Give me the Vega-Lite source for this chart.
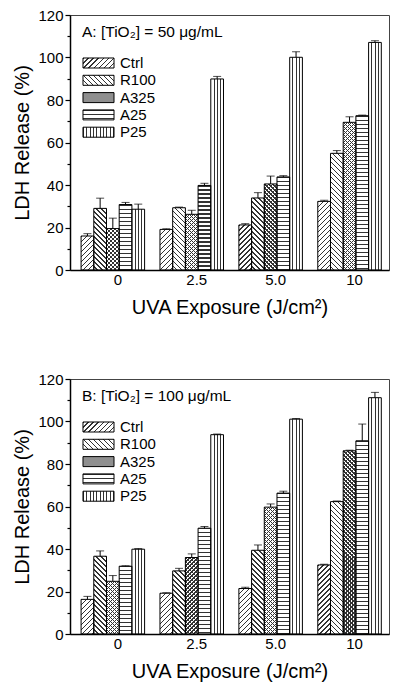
{
  "$schema": "https://vega.github.io/schema/vega-lite/v6.json",
  "padding": {"left": 12, "top": 7, "right": 5, "bottom": 5},
  "config": {
    "font": "Liberation Sans",
    "view": {"stroke": "#444", "strokeWidth": 1},
    "axis": {"labelFontSize": 15, "labelColor": "black", "titleFontSize": 20, "titleFontWeight": "normal", "titleColor": "black", "domainColor": "black", "domainWidth": 1.5, "tickColor": "black", "tickWidth": 1.2, "grid": false, "labelFont": "Liberation Sans", "titleFont": "Liberation Sans"},
    "legend": {
      "orient": "none", "legendX": 12, "legendY": 10,
      "titleFontSize": 15.5, "titleFontWeight": "normal", "titleFont": "Liberation Sans", "titleColor": "black", "titlePadding": 15,
      "labelFontSize": 15, "labelFont": "Liberation Sans", "labelColor": "black", "labelOffset": 14, "symbolOffset": 9,
      "symbolType": "M-2.82,-0.91H2.82V0.91H-2.82Z", "symbolSize": 121, "rowPadding": 1.3,
      "symbolStrokeColor": "black", "symbolStrokeWidth": 1
    }
  },
  "params": [
    {"name": "vs", "value": [
      {"offset":0,"color":"transparent"},{"offset":0.215,"color":"transparent"},{"offset":0.215,"color":"#333"},{"offset":0.295,"color":"#333"},{"offset":0.295,"color":"transparent"},
      {"offset":0.465,"color":"transparent"},{"offset":0.465,"color":"#333"},{"offset":0.545,"color":"#333"},{"offset":0.545,"color":"transparent"},
      {"offset":0.715,"color":"transparent"},{"offset":0.715,"color":"#333"},{"offset":0.795,"color":"#333"},{"offset":0.795,"color":"transparent"},{"offset":1,"color":"transparent"}
    ]},
    {"name": "hs", "value": [
    {"offset":0,"color":"#333"},{"offset":0.006,"color":"#333"},{"offset":0.006,"color":"transparent"},{"offset":0.02,"color":"transparent"},
    {"offset":0.02,"color":"#333"},{"offset":0.026,"color":"#333"},{"offset":0.026,"color":"transparent"},{"offset":0.04,"color":"transparent"},
    {"offset":0.04,"color":"#333"},{"offset":0.046,"color":"#333"},{"offset":0.046,"color":"transparent"},{"offset":0.06,"color":"transparent"},
    {"offset":0.06,"color":"#333"},{"offset":0.066,"color":"#333"},{"offset":0.066,"color":"transparent"},{"offset":0.08,"color":"transparent"},
    {"offset":0.08,"color":"#333"},{"offset":0.086,"color":"#333"},{"offset":0.086,"color":"transparent"},{"offset":0.1,"color":"transparent"},
    {"offset":0.1,"color":"#333"},{"offset":0.106,"color":"#333"},{"offset":0.106,"color":"transparent"},{"offset":0.12,"color":"transparent"},
    {"offset":0.12,"color":"#333"},{"offset":0.126,"color":"#333"},{"offset":0.126,"color":"transparent"},{"offset":0.14,"color":"transparent"},
    {"offset":0.14,"color":"#333"},{"offset":0.146,"color":"#333"},{"offset":0.146,"color":"transparent"},{"offset":0.16,"color":"transparent"},
    {"offset":0.16,"color":"#333"},{"offset":0.166,"color":"#333"},{"offset":0.166,"color":"transparent"},{"offset":0.18,"color":"transparent"},
    {"offset":0.18,"color":"#333"},{"offset":0.186,"color":"#333"},{"offset":0.186,"color":"transparent"},{"offset":0.2,"color":"transparent"},
    {"offset":0.2,"color":"#333"},{"offset":0.206,"color":"#333"},{"offset":0.206,"color":"transparent"},{"offset":0.22,"color":"transparent"},
    {"offset":0.22,"color":"#333"},{"offset":0.226,"color":"#333"},{"offset":0.226,"color":"transparent"},{"offset":0.24,"color":"transparent"},
    {"offset":0.24,"color":"#333"},{"offset":0.246,"color":"#333"},{"offset":0.246,"color":"transparent"},{"offset":0.26,"color":"transparent"},
    {"offset":0.26,"color":"#333"},{"offset":0.266,"color":"#333"},{"offset":0.266,"color":"transparent"},{"offset":0.28,"color":"transparent"},
    {"offset":0.28,"color":"#333"},{"offset":0.286,"color":"#333"},{"offset":0.286,"color":"transparent"},{"offset":0.3,"color":"transparent"},
    {"offset":0.3,"color":"#333"},{"offset":0.306,"color":"#333"},{"offset":0.306,"color":"transparent"},{"offset":0.32,"color":"transparent"},
    {"offset":0.32,"color":"#333"},{"offset":0.326,"color":"#333"},{"offset":0.326,"color":"transparent"},{"offset":0.34,"color":"transparent"},
    {"offset":0.34,"color":"#333"},{"offset":0.346,"color":"#333"},{"offset":0.346,"color":"transparent"},{"offset":0.36,"color":"transparent"},
    {"offset":0.36,"color":"#333"},{"offset":0.366,"color":"#333"},{"offset":0.366,"color":"transparent"},{"offset":0.38,"color":"transparent"},
    {"offset":0.38,"color":"#333"},{"offset":0.386,"color":"#333"},{"offset":0.386,"color":"transparent"},{"offset":0.4,"color":"transparent"},
    {"offset":0.4,"color":"#333"},{"offset":0.406,"color":"#333"},{"offset":0.406,"color":"transparent"},{"offset":0.42,"color":"transparent"},
    {"offset":0.42,"color":"#333"},{"offset":0.426,"color":"#333"},{"offset":0.426,"color":"transparent"},{"offset":0.44,"color":"transparent"},
    {"offset":0.44,"color":"#333"},{"offset":0.446,"color":"#333"},{"offset":0.446,"color":"transparent"},{"offset":0.46,"color":"transparent"},
    {"offset":0.46,"color":"#333"},{"offset":0.466,"color":"#333"},{"offset":0.466,"color":"transparent"},{"offset":0.48,"color":"transparent"},
    {"offset":0.48,"color":"#333"},{"offset":0.486,"color":"#333"},{"offset":0.486,"color":"transparent"},{"offset":0.5,"color":"transparent"},
    {"offset":0.5,"color":"#333"},{"offset":0.506,"color":"#333"},{"offset":0.506,"color":"transparent"},{"offset":0.52,"color":"transparent"},
    {"offset":0.52,"color":"#333"},{"offset":0.526,"color":"#333"},{"offset":0.526,"color":"transparent"},{"offset":0.54,"color":"transparent"},
    {"offset":0.54,"color":"#333"},{"offset":0.546,"color":"#333"},{"offset":0.546,"color":"transparent"},{"offset":0.56,"color":"transparent"},
    {"offset":0.56,"color":"#333"},{"offset":0.566,"color":"#333"},{"offset":0.566,"color":"transparent"},{"offset":0.58,"color":"transparent"},
    {"offset":0.58,"color":"#333"},{"offset":0.586,"color":"#333"},{"offset":0.586,"color":"transparent"},{"offset":0.6,"color":"transparent"},
    {"offset":0.6,"color":"#333"},{"offset":0.606,"color":"#333"},{"offset":0.606,"color":"transparent"},{"offset":0.62,"color":"transparent"},
    {"offset":0.62,"color":"#333"},{"offset":0.626,"color":"#333"},{"offset":0.626,"color":"transparent"},{"offset":0.64,"color":"transparent"},
    {"offset":0.64,"color":"#333"},{"offset":0.646,"color":"#333"},{"offset":0.646,"color":"transparent"},{"offset":0.66,"color":"transparent"},
    {"offset":0.66,"color":"#333"},{"offset":0.666,"color":"#333"},{"offset":0.666,"color":"transparent"},{"offset":0.68,"color":"transparent"},
    {"offset":0.68,"color":"#333"},{"offset":0.686,"color":"#333"},{"offset":0.686,"color":"transparent"},{"offset":0.7,"color":"transparent"},
    {"offset":0.7,"color":"#333"},{"offset":0.706,"color":"#333"},{"offset":0.706,"color":"transparent"},{"offset":0.72,"color":"transparent"},
    {"offset":0.72,"color":"#333"},{"offset":0.726,"color":"#333"},{"offset":0.726,"color":"transparent"},{"offset":0.74,"color":"transparent"},
    {"offset":0.74,"color":"#333"},{"offset":0.746,"color":"#333"},{"offset":0.746,"color":"transparent"},{"offset":0.76,"color":"transparent"},
    {"offset":0.76,"color":"#333"},{"offset":0.766,"color":"#333"},{"offset":0.766,"color":"transparent"},{"offset":0.78,"color":"transparent"},
    {"offset":0.78,"color":"#333"},{"offset":0.786,"color":"#333"},{"offset":0.786,"color":"transparent"},{"offset":0.8,"color":"transparent"},
    {"offset":0.8,"color":"#333"},{"offset":0.806,"color":"#333"},{"offset":0.806,"color":"transparent"},{"offset":0.82,"color":"transparent"},
    {"offset":0.82,"color":"#333"},{"offset":0.826,"color":"#333"},{"offset":0.826,"color":"transparent"},{"offset":0.84,"color":"transparent"},
    {"offset":0.84,"color":"#333"},{"offset":0.846,"color":"#333"},{"offset":0.846,"color":"transparent"},{"offset":0.86,"color":"transparent"},
    {"offset":0.86,"color":"#333"},{"offset":0.866,"color":"#333"},{"offset":0.866,"color":"transparent"},{"offset":0.88,"color":"transparent"},
    {"offset":0.88,"color":"#333"},{"offset":0.886,"color":"#333"},{"offset":0.886,"color":"transparent"},{"offset":0.9,"color":"transparent"},
    {"offset":0.9,"color":"#333"},{"offset":0.906,"color":"#333"},{"offset":0.906,"color":"transparent"},{"offset":0.92,"color":"transparent"},
    {"offset":0.92,"color":"#333"},{"offset":0.926,"color":"#333"},{"offset":0.926,"color":"transparent"},{"offset":0.94,"color":"transparent"},
    {"offset":0.94,"color":"#333"},{"offset":0.946,"color":"#333"},{"offset":0.946,"color":"transparent"},{"offset":0.96,"color":"transparent"},
    {"offset":0.96,"color":"#333"},{"offset":0.966,"color":"#333"},{"offset":0.966,"color":"transparent"},{"offset":0.98,"color":"transparent"},
    {"offset":0.98,"color":"#333"},{"offset":0.986,"color":"#333"},{"offset":0.986,"color":"transparent"},{"offset":1,"color":"transparent"}
  ]}],
  "data": {"values": [
    {"panel":"A","uva":"0","series":"Ctrl","value":16.0,"hi":17.1},
    {"panel":"A","uva":"0","series":"R100","value":29.0,"hi":33.8},
    {"panel":"A","uva":"0","series":"A325","value":19.5,"hi":24.4},
    {"panel":"A","uva":"0","series":"A25","value":30.8,"hi":31.8},
    {"panel":"A","uva":"0","series":"P25","value":28.6,"hi":31.0},
    {"panel":"A","uva":"2.5","series":"Ctrl","value":19.1,"hi":19.4},
    {"panel":"A","uva":"2.5","series":"R100","value":29.3,"hi":29.6},
    {"panel":"A","uva":"2.5","series":"A325","value":26.2,"hi":28.1},
    {"panel":"A","uva":"2.5","series":"A25","value":39.8,"hi":40.8},
    {"panel":"A","uva":"2.5","series":"P25","value":89.9,"hi":91.1},
    {"panel":"A","uva":"5.0","series":"Ctrl","value":21.2,"hi":21.8},
    {"panel":"A","uva":"5.0","series":"R100","value":33.9,"hi":36.4},
    {"panel":"A","uva":"5.0","series":"A325","value":40.5,"hi":44.2},
    {"panel":"A","uva":"5.0","series":"A25","value":43.8,"hi":44.4},
    {"panel":"A","uva":"5.0","series":"P25","value":100.1,"hi":102.7},
    {"panel":"A","uva":"10","series":"Ctrl","value":32.3,"hi":32.8},
    {"panel":"A","uva":"10","series":"R100","value":54.9,"hi":56.2},
    {"panel":"A","uva":"10","series":"A325","value":69.5,"hi":72.1},
    {"panel":"A","uva":"10","series":"A25","value":72.6,"hi":72.9},
    {"panel":"A","uva":"10","series":"P25","value":107.1,"hi":107.9},
    {"panel":"B","uva":"0","series":"Ctrl","value":16.3,"hi":17.7},
    {"panel":"B","uva":"0","series":"R100","value":36.6,"hi":39.1},
    {"panel":"B","uva":"0","series":"A325","value":24.8,"hi":27.5},
    {"panel":"B","uva":"0","series":"A25","value":31.9,"hi":32.1},
    {"panel":"B","uva":"0","series":"P25","value":39.9,"hi":40.2},
    {"panel":"B","uva":"2.5","series":"Ctrl","value":19.2,"hi":19.4},
    {"panel":"B","uva":"2.5","series":"R100","value":29.7,"hi":30.9},
    {"panel":"B","uva":"2.5","series":"A325","value":36.0,"hi":37.7},
    {"panel":"B","uva":"2.5","series":"A25","value":49.8,"hi":50.6},
    {"panel":"B","uva":"2.5","series":"P25","value":93.8,"hi":94.1},
    {"panel":"B","uva":"5.0","series":"Ctrl","value":21.4,"hi":22.0},
    {"panel":"B","uva":"5.0","series":"R100","value":39.4,"hi":41.9},
    {"panel":"B","uva":"5.0","series":"A325","value":59.7,"hi":61.2},
    {"panel":"B","uva":"5.0","series":"A25","value":66.3,"hi":67.2},
    {"panel":"B","uva":"5.0","series":"P25","value":101.1,"hi":101.4},
    {"panel":"B","uva":"10","series":"Ctrl","value":32.5,"hi":32.8},
    {"panel":"B","uva":"10","series":"R100","value":62.3,"hi":62.6},
    {"panel":"B","uva":"10","series":"A325","value":86.2,"hi":86.5},
    {"panel":"B","uva":"10","series":"A25","value":90.9,"hi":98.8},
    {"panel":"B","uva":"10","series":"P25","value":111.2,"hi":113.7}
  ]},
  "spacing": 53,
  "resolve": {"scale": {"fill": "independent"}, "legend": {"fill": "independent"}},
  "vconcat": [
    {
      "width": 319, "height": 255,
      "transform": [{"filter": "datum.panel === 'A'"}],
      "resolve": {"axis": {"y": "independent"}},
      "layer": [
        {"transform": [{"filter": {"field": "series", "oneOf": ["Ctrl", "A325"]}}],
         "mark": {"type": "bar", "fill": {"expr": "{gradient:'linear',x1:0,y1:0,x2:1.4142*(datum.series==='A325'?141.4:176.8)*12.7/(161.3+pow(2.125*datum.value,2)),y2:1.4142*(datum.series==='A325'?141.4:176.8)*2.125*datum.value/(161.3+pow(2.125*datum.value,2)),stops:hs}"}},
         "encoding": {
           "x": {"field": "uva", "type": "nominal", "sort": ["0","2.5","5.0","10"], "scale": {"domain": ["0","2.5","5.0","10"], "paddingInner": 0.195, "paddingOuter": 0.119, "align": 0.59}, "axis": {"title": "UVA Exposure (J/cm²)", "ticks": false, "labelAngle": 0, "labelPadding": 2, "labelOffset": 5, "titlePadding": 10}},
           "xOffset": {"field": "series", "type": "nominal", "scale": {"domain": ["Ctrl","R100","A325","A25","P25"], "paddingInner": 0, "paddingOuter": 0}},
           "y": {"field": "value", "type": "quantitative", "scale": {"domain": [0, 120], "nice": false}, "axis": null}
         }},
        {"transform": [{"filter": {"field": "series", "oneOf": ["R100", "A325"]}}],
         "mark": {"type": "bar", "fill": {"expr": "{gradient:'linear',x1:1,y1:0,x2:1-1.4142*(datum.series==='A325'?141.4:176.8)*12.7/(161.3+pow(2.125*datum.value,2)),y2:1.4142*(datum.series==='A325'?141.4:176.8)*2.125*datum.value/(161.3+pow(2.125*datum.value,2)),stops:hs}"}},
         "encoding": {
           "x": {"field": "uva", "type": "nominal", "sort": ["0","2.5","5.0","10"], "axis": {"title": "UVA Exposure (J/cm²)", "ticks": false, "labelAngle": 0, "labelPadding": 2, "labelOffset": 5, "titlePadding": 10}},
           "xOffset": {"field": "series", "type": "nominal", "scale": {"domain": ["Ctrl","R100","A325","A25","P25"]}},
           "y": {"field": "value", "type": "quantitative", "axis": null}
         }},
        {"transform": [{"filter": {"field": "series", "oneOf": ["A25"]}}],
         "mark": {"type": "bar", "fill": {"expr": "{gradient:'linear',x1:0,y1:0,x2:0,y2:200/(2.125*datum.value),stops:hs}"}},
         "encoding": {
           "x": {"field": "uva", "type": "nominal", "sort": ["0","2.5","5.0","10"], "axis": {"title": "UVA Exposure (J/cm²)", "ticks": false, "labelAngle": 0, "labelPadding": 2, "labelOffset": 5, "titlePadding": 10}},
           "xOffset": {"field": "series", "type": "nominal", "scale": {"domain": ["Ctrl","R100","A325","A25","P25"]}},
           "y": {"field": "value", "type": "quantitative", "axis": null}
         }},
        {"transform": [{"filter": {"field": "series", "oneOf": ["P25"]}}],
         "mark": {"type": "bar", "fill": {"expr": "{gradient:'linear',x1:0,y1:0,x2:1,y2:0,stops:vs}"}},
         "encoding": {
           "x": {"field": "uva", "type": "nominal", "sort": ["0","2.5","5.0","10"], "axis": {"title": "UVA Exposure (J/cm²)", "ticks": false, "labelAngle": 0, "labelPadding": 2, "labelOffset": 5, "titlePadding": 10}},
           "xOffset": {"field": "series", "type": "nominal", "scale": {"domain": ["Ctrl","R100","A325","A25","P25"]}},
           "y": {"field": "value", "type": "quantitative", "axis": null}
         }},
        {"mark": {"type": "bar", "fillOpacity": 0, "stroke": "black", "strokeWidth": 1},
         "encoding": {
           "x": {"field": "uva", "type": "nominal", "sort": ["0","2.5","5.0","10"], "axis": {"title": "UVA Exposure (J/cm²)", "ticks": false, "labelAngle": 0, "labelPadding": 2, "labelOffset": 5, "titlePadding": 10}},
           "xOffset": {"field": "series", "type": "nominal", "scale": {"domain": ["Ctrl","R100","A325","A25","P25"]}},
           "y": {"field": "value", "type": "quantitative", "axis": {"title": "LDH Release (%)", "values": [0,20,40,60,80,100,120], "tickSize": 5, "labelPadding": 2, "titlePadding": 5, "orient": "left"}},
           "fill": {"field": "series", "type": "nominal", "scale": {"domain": ["Ctrl","R100","A325","A25","P25"], "range": [
             {"expr": "{gradient:'linear',x1:0,y1:0,x2:7.305,y2:2.357,stops:hs}"},
             {"expr": "{gradient:'linear',x1:1,y1:0,x2:-6.305,y2:2.357,stops:hs}"},
             "#8f8f8f",
             {"expr": "{gradient:'linear',x1:0,y1:0,x2:0,y2:20,stops:hs}"},
             {"expr": "{gradient:'linear',x1:0,y1:0,x2:5.38,y2:0,stops:hs}"}
           ]}, "legend": {"title": "A: [TiO₂] = 50 μg/mL", "encode": {"symbols": {"update": {"fillOpacity": {"value": 1}, "opacity": {"value": 1}, "stroke": {"value": "black"}, "strokeWidth": {"value": 1}}}}}}
         }},
        {"mark": {"type": "rule", "color": "black", "strokeWidth": 1},
         "encoding": {
           "x": {"field": "uva", "type": "nominal", "sort": ["0","2.5","5.0","10"], "axis": {"title": "UVA Exposure (J/cm²)", "ticks": false, "labelAngle": 0, "labelPadding": 2, "labelOffset": 5, "titlePadding": 10}},
           "xOffset": {"field": "series", "type": "nominal", "scale": {"domain": ["Ctrl","R100","A325","A25","P25"]}},
           "y": {"field": "value", "type": "quantitative", "axis": {"orient": "left", "values": [10,30,50,70,90,110], "tickSize": 3, "labels": false, "domain": false, "title": null}},
           "y2": {"field": "hi"}
         }},
        {"mark": {"type": "tick", "color": "black", "thickness": 1, "size": 8, "orient": "horizontal"},
         "encoding": {
           "x": {"field": "uva", "type": "nominal", "sort": ["0","2.5","5.0","10"], "axis": {"title": "UVA Exposure (J/cm²)", "ticks": false, "labelAngle": 0, "labelPadding": 2, "labelOffset": 5, "titlePadding": 10}},
           "xOffset": {"field": "series", "type": "nominal", "scale": {"domain": ["Ctrl","R100","A325","A25","P25"]}},
           "y": {"field": "hi", "type": "quantitative", "axis": null}
         }}
      ]
    },
    {
      "width": 319, "height": 255,
      "transform": [{"filter": "datum.panel === 'B'"}],
      "resolve": {"axis": {"y": "independent"}},
      "layer": [
        {"transform": [{"filter": {"field": "series", "oneOf": ["Ctrl", "A325"]}}],
         "mark": {"type": "bar", "fill": {"expr": "{gradient:'linear',x1:0,y1:0,x2:1.4142*(datum.series==='A325'?141.4:176.8)*12.7/(161.3+pow(2.125*datum.value,2)),y2:1.4142*(datum.series==='A325'?141.4:176.8)*2.125*datum.value/(161.3+pow(2.125*datum.value,2)),stops:hs}"}},
         "encoding": {
           "x": {"field": "uva", "type": "nominal", "sort": ["0","2.5","5.0","10"], "scale": {"domain": ["0","2.5","5.0","10"], "paddingInner": 0.195, "paddingOuter": 0.119, "align": 0.59}, "axis": {"title": "UVA Exposure (J/cm²)", "ticks": false, "labelAngle": 0, "labelPadding": 2, "labelOffset": 5, "titlePadding": 10}},
           "xOffset": {"field": "series", "type": "nominal", "scale": {"domain": ["Ctrl","R100","A325","A25","P25"], "paddingInner": 0, "paddingOuter": 0}},
           "y": {"field": "value", "type": "quantitative", "scale": {"domain": [0, 120], "nice": false}, "axis": null}
         }},
        {"transform": [{"filter": {"field": "series", "oneOf": ["R100", "A325"]}}],
         "mark": {"type": "bar", "fill": {"expr": "{gradient:'linear',x1:1,y1:0,x2:1-1.4142*(datum.series==='A325'?141.4:176.8)*12.7/(161.3+pow(2.125*datum.value,2)),y2:1.4142*(datum.series==='A325'?141.4:176.8)*2.125*datum.value/(161.3+pow(2.125*datum.value,2)),stops:hs}"}},
         "encoding": {
           "x": {"field": "uva", "type": "nominal", "sort": ["0","2.5","5.0","10"], "axis": {"title": "UVA Exposure (J/cm²)", "ticks": false, "labelAngle": 0, "labelPadding": 2, "labelOffset": 5, "titlePadding": 10}},
           "xOffset": {"field": "series", "type": "nominal", "scale": {"domain": ["Ctrl","R100","A325","A25","P25"]}},
           "y": {"field": "value", "type": "quantitative", "axis": null}
         }},
        {"transform": [{"filter": {"field": "series", "oneOf": ["A25"]}}],
         "mark": {"type": "bar", "fill": {"expr": "{gradient:'linear',x1:0,y1:0,x2:0,y2:200/(2.125*datum.value),stops:hs}"}},
         "encoding": {
           "x": {"field": "uva", "type": "nominal", "sort": ["0","2.5","5.0","10"], "axis": {"title": "UVA Exposure (J/cm²)", "ticks": false, "labelAngle": 0, "labelPadding": 2, "labelOffset": 5, "titlePadding": 10}},
           "xOffset": {"field": "series", "type": "nominal", "scale": {"domain": ["Ctrl","R100","A325","A25","P25"]}},
           "y": {"field": "value", "type": "quantitative", "axis": null}
         }},
        {"transform": [{"filter": {"field": "series", "oneOf": ["P25"]}}],
         "mark": {"type": "bar", "fill": {"expr": "{gradient:'linear',x1:0,y1:0,x2:1,y2:0,stops:vs}"}},
         "encoding": {
           "x": {"field": "uva", "type": "nominal", "sort": ["0","2.5","5.0","10"], "axis": {"title": "UVA Exposure (J/cm²)", "ticks": false, "labelAngle": 0, "labelPadding": 2, "labelOffset": 5, "titlePadding": 10}},
           "xOffset": {"field": "series", "type": "nominal", "scale": {"domain": ["Ctrl","R100","A325","A25","P25"]}},
           "y": {"field": "value", "type": "quantitative", "axis": null}
         }},
        {"mark": {"type": "bar", "fillOpacity": 0, "stroke": "black", "strokeWidth": 1},
         "encoding": {
           "x": {"field": "uva", "type": "nominal", "sort": ["0","2.5","5.0","10"], "axis": {"title": "UVA Exposure (J/cm²)", "ticks": false, "labelAngle": 0, "labelPadding": 2, "labelOffset": 5, "titlePadding": 10}},
           "xOffset": {"field": "series", "type": "nominal", "scale": {"domain": ["Ctrl","R100","A325","A25","P25"]}},
           "y": {"field": "value", "type": "quantitative", "axis": {"title": "LDH Release (%)", "values": [0,20,40,60,80,100,120], "tickSize": 5, "labelPadding": 2, "titlePadding": 5, "orient": "left"}},
           "fill": {"field": "series", "type": "nominal", "scale": {"domain": ["Ctrl","R100","A325","A25","P25"], "range": [
             {"expr": "{gradient:'linear',x1:0,y1:0,x2:7.305,y2:2.357,stops:hs}"},
             {"expr": "{gradient:'linear',x1:1,y1:0,x2:-6.305,y2:2.357,stops:hs}"},
             "#8f8f8f",
             {"expr": "{gradient:'linear',x1:0,y1:0,x2:0,y2:20,stops:hs}"},
             {"expr": "{gradient:'linear',x1:0,y1:0,x2:5.38,y2:0,stops:hs}"}
           ]}, "legend": {"title": "B: [TiO₂] = 100 μg/mL", "encode": {"symbols": {"update": {"fillOpacity": {"value": 1}, "opacity": {"value": 1}, "stroke": {"value": "black"}, "strokeWidth": {"value": 1}}}}}}
         }},
        {"mark": {"type": "rule", "color": "black", "strokeWidth": 1},
         "encoding": {
           "x": {"field": "uva", "type": "nominal", "sort": ["0","2.5","5.0","10"], "axis": {"title": "UVA Exposure (J/cm²)", "ticks": false, "labelAngle": 0, "labelPadding": 2, "labelOffset": 5, "titlePadding": 10}},
           "xOffset": {"field": "series", "type": "nominal", "scale": {"domain": ["Ctrl","R100","A325","A25","P25"]}},
           "y": {"field": "value", "type": "quantitative", "axis": {"orient": "left", "values": [10,30,50,70,90,110], "tickSize": 3, "labels": false, "domain": false, "title": null}},
           "y2": {"field": "hi"}
         }},
        {"mark": {"type": "tick", "color": "black", "thickness": 1, "size": 8, "orient": "horizontal"},
         "encoding": {
           "x": {"field": "uva", "type": "nominal", "sort": ["0","2.5","5.0","10"], "axis": {"title": "UVA Exposure (J/cm²)", "ticks": false, "labelAngle": 0, "labelPadding": 2, "labelOffset": 5, "titlePadding": 10}},
           "xOffset": {"field": "series", "type": "nominal", "scale": {"domain": ["Ctrl","R100","A325","A25","P25"]}},
           "y": {"field": "hi", "type": "quantitative", "axis": null}
         }}
      ]
    }
  ]
}
